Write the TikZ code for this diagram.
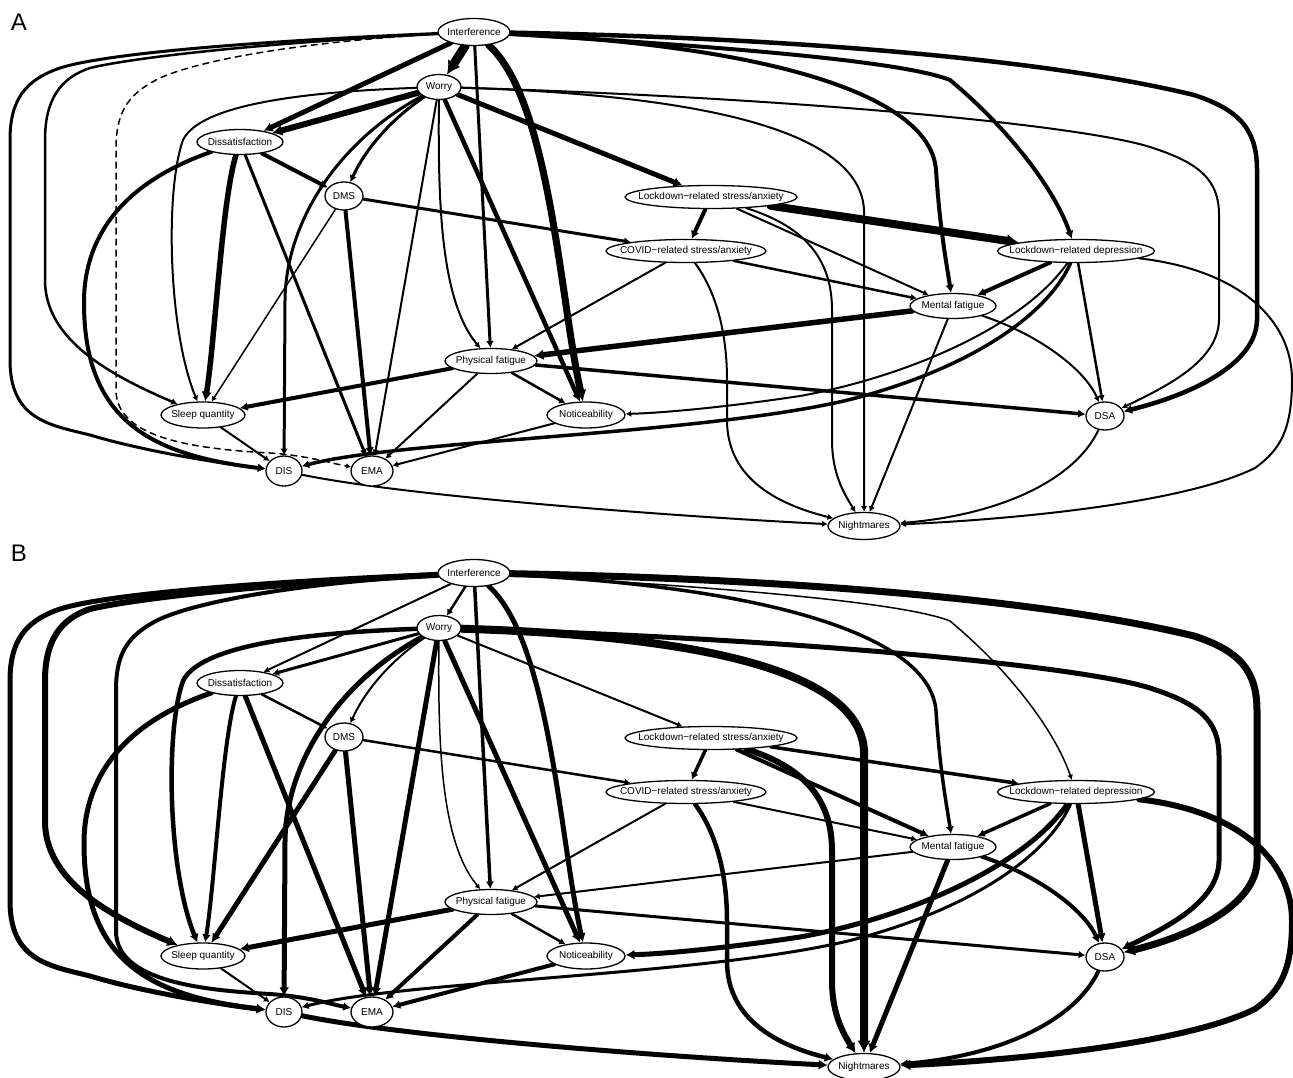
\documentclass[tikz,border=0pt]{standalone}
\usepackage{fontspec}
\setmainfont{Liberation Sans}
\usetikzlibrary{shapes.geometric,arrows.meta}
\pgfdeclarelayer{bg}
\pgfsetlayers{bg,main}
\tikzset{
  ell/.style={ellipse, draw, line width=1.3pt, fill=white, inner sep=0pt, font=\fontsize{10}{12}\selectfont},
  edge/.style={line cap=round, -{Latex[length=3.5pt 1.1, width=4pt 1.2]}},
  lbl/.style={font=\fontsize{24}{28}\selectfont, inner sep=0pt},
}
\newcommand\nd[6]{\node[ell, minimum width=#4pt, minimum height=#5pt] (#1) at (#2,#3) {\makebox[0pt]{#6}};}
\newcommand\ew[3]{\tikzset{#1#2/.style={line width=#3pt}}}
% panel A widths
\ew{A}{intwor}{9}\ew{A}{intdsat}{5}\ew{A}{intdis}{3}\ew{A}{intsq}{2.5}
\tikzset{Aintema/.style={line width=1.5pt, dash pattern=on 6pt off 5pt}}
\ew{A}{intpf}{3}\ew{A}{intnot}{7}\ew{A}{intmf}{4}\ew{A}{intldep}{4}\ew{A}{intdsa}{4.5}
\ew{A}{wordsat}{6}\ew{A}{wordms}{3}\ew{A}{worlsa}{5}\ew{A}{worsq}{2}\ew{A}{wordis}{3}
\ew{A}{worema}{2}\ew{A}{worpf}{2}\ew{A}{wornot}{4.5}\ew{A}{wornig}{2}\ew{A}{wordsa}{2}
\ew{A}{dsatdms}{4}\ew{A}{dsatsq}{5.5}\ew{A}{dsatema}{3}\ew{A}{dsatdis}{4}
\ew{A}{dmscsa}{3}\ew{A}{dmssq}{1.5}\ew{A}{dmsema}{4}
\ew{A}{lsacsa}{4}\ew{A}{lsaldep}{8}\ew{A}{lsamf}{2}\ew{A}{lsanig}{2}
\ew{A}{csamf}{2.5}\ew{A}{csapf}{2}\ew{A}{csanig}{2}
\ew{A}{ldepmf}{4}\ew{A}{ldepdsa}{2.5}\ew{A}{ldepnot}{2}\ew{A}{ldepdis}{3.5}\ew{A}{ldepnig}{2}
\ew{A}{mfpf}{5.5}\ew{A}{mfdsa}{2}\ew{A}{mfnig}{2}
\ew{A}{pfsq}{4}\ew{A}{pfnot}{2.5}\ew{A}{pfema}{2}\ew{A}{pfdsa}{3.5}
\ew{A}{sqdis}{2}\ew{A}{notema}{2}\ew{A}{disnig}{2}\ew{A}{dsanig}{2}
% panel B widths
\ew{B}{intwor}{2.5}\ew{B}{intdsat}{2}\ew{B}{intdis}{5}\ew{B}{intsq}{6}\ew{B}{intema}{4}
\ew{B}{intpf}{3.5}\ew{B}{intnot}{5}\ew{B}{intmf}{3.5}\ew{B}{intldep}{1.5}\ew{B}{intdsa}{7}
\ew{B}{wordsat}{3}\ew{B}{wordms}{2}\ew{B}{worlsa}{2}\ew{B}{worsq}{4.5}\ew{B}{wordis}{5}
\ew{B}{worema}{5}\ew{B}{worpf}{1.5}\ew{B}{wornot}{5}\ew{B}{wornig}{8}\ew{B}{wordsa}{5}
\ew{B}{dsatdms}{2.5}\ew{B}{dsatsq}{4}\ew{B}{dsatema}{5}\ew{B}{dsatdis}{5}
\ew{B}{dmscsa}{2.5}\ew{B}{dmssq}{5}\ew{B}{dmsema}{5}
\ew{B}{lsacsa}{3.5}\ew{B}{lsaldep}{3.5}\ew{B}{lsamf}{4}\ew{B}{lsanig}{6}
\ew{B}{csamf}{2}\ew{B}{csapf}{2}\ew{B}{csanig}{4.5}
\ew{B}{ldepmf}{3.5}\ew{B}{ldepdsa}{5}\ew{B}{ldepnot}{5}\ew{B}{ldepdis}{3}\ew{B}{ldepnig}{6}
\ew{B}{mfpf}{2}\ew{B}{mfdsa}{4}\ew{B}{mfnig}{5}
\ew{B}{pfsq}{5}\ew{B}{pfnot}{2.5}\ew{B}{pfema}{4}\ew{B}{pfdsa}{3}
\ew{B}{sqdis}{2}\ew{B}{notema}{4}\ew{B}{disnig}{5}\ew{B}{dsanig}{4}

\newcommand\bnpanel[2]{%
\begin{scope}[shift={(0,#2)}]
\nd{int#1}{474}{32}{72}{27}{Interference}
\nd{wor#1}{439}{87}{44}{25}{Worry}
\nd{dsat#1}{240}{142}{86}{25}{Dissatisfaction}
\nd{dms#1}{344}{196}{38}{28}{DMS}
\nd{lsa#1}{711}{197}{172}{23}{Lockdown−related stress/anxiety}
\nd{csa#1}{686}{251}{160}{23}{COVID−related stress/anxiety}
\nd{ldep#1}{1076}{251}{157}{23}{Lockdown−related depression}
\nd{mf#1}{953}{306}{86}{25}{Mental fatigue}
\nd{pf#1}{491}{361}{92}{25}{Physical fatigue}
\nd{sq#1}{203}{415}{84}{26}{Sleep quantity}
\nd{not#1}{586}{415}{78}{26}{Noticeability}
\nd{dsa#1}{1105}{416}{38}{28}{DSA}
\nd{dis#1}{284}{471}{36}{30}{DIS}
\nd{ema#1}{372}{471}{42}{30}{EMA}
\nd{nig#1}{864}{526}{72}{27}{Nightmares}
\begin{pgfonlayer}{bg}
% Interference
\draw[edge,#1intwor] (int#1) -- (wor#1);
\draw[edge,#1intdsat] (int#1) -- (dsat#1);
\draw[edge,#1intdis] (int#1) .. controls (280,40) and (110,52) .. (60,68) .. controls (25,80) and (10,100) .. (10,140) -- (10,360) .. controls (10,420) and (50,425) .. (90,435) .. controls (140,450) and (210,462) .. (dis#1);
\draw[edge,#1intsq] (int#1) .. controls (280,42) and (140,56) .. (90,68) .. controls (60,78) and (45,100) .. (45,140) -- (45,280) .. controls (45,340) and (110,375) .. (sq#1);
\draw[edge,#1intema] (int#1) .. controls (300,42) and (200,60) .. (160,78) .. controls (125,95) and (116,115) .. (116,150) -- (116,390) .. controls (116,440) and (200,449) .. (270,453) .. controls (310,456) and (330,463) .. (ema#1);
\draw[edge,#1intpf] (int#1) -- (pf#1);
\draw[edge,#1intnot] (int#1) .. controls (550,100) and (560,300) .. (not#1);
\draw[edge,#1intmf] (int#1) .. controls (750,45) and (930,90) .. (936,170) .. controls (940,230) and (946,260) .. (mf#1);
\draw[edge,#1intldep] (int#1) .. controls (700,45) and (900,60) .. (950,80) .. controls (1010,130) and (1055,190) .. (ldep#1);
\draw[edge,#1intdsa] (int#1) .. controls (800,38) and (1050,60) .. (1194,95) .. controls (1240,110) and (1257,130) .. (1257,170) -- (1257,320) .. controls (1256,365) and (1190,395) .. (dsa#1);
% Worry
\draw[edge,#1wordsat] (wor#1) -- (dsat#1);
\draw[edge,#1wordms] (wor#1) .. controls (390,120) and (365,150) .. (dms#1);
\draw[edge,#1worlsa] (wor#1) -- (lsa#1);
\draw[edge,#1worsq] (wor#1) .. controls (300,92) and (200,105) .. (183,140) .. controls (165,190) and (168,330) .. (sq#1);
\draw[edge,#1wordis] (wor#1) .. controls (340,140) and (286,220) .. (285,300) -- (dis#1);
\draw[edge,#1worema] (wor#1) -- (ema#1);
\draw[edge,#1worpf] (wor#1) .. controls (438,200) and (440,300) .. (pf#1);
\draw[edge,#1wornot] (wor#1) -- (not#1);
\draw[edge,#1wornig] (wor#1) .. controls (700,95) and (860,130) .. (864,210) -- (nig#1);
\draw[edge,#1wordsa] (wor#1) .. controls (800,98) and (1080,125) .. (1150,147) .. controls (1200,163) and (1219,180) .. (1219,215) -- (1219,320) .. controls (1218,360) and (1170,385) .. (dsa#1);
% Dissatisfaction
\draw[edge,#1dsatdms] (dsat#1) -- (dms#1);
\draw[edge,#1dsatsq] (dsat#1) .. controls (222,200) and (215,340) .. (sq#1);
\draw[edge,#1dsatema] (dsat#1) -- (ema#1);
\draw[edge,#1dsatdis] (dsat#1) .. controls (130,180) and (85,230) .. (84,300) .. controls (83,420) and (150,455) .. (dis#1);
% DMS
\draw[edge,#1dmscsa] (dms#1) -- (csa#1);
\draw[edge,#1dmssq] (dms#1) -- (sq#1);
\draw[edge,#1dmsema] (dms#1) -- (ema#1);
% Lockdown stress
\draw[edge,#1lsacsa] (lsa#1) -- (csa#1);
\draw[edge,#1lsaldep] (lsa#1) -- (ldep#1);
\draw[edge,#1lsamf] (lsa#1) -- (mf#1);
\draw[edge,#1lsanig] (lsa#1) .. controls (800,225) and (832,255) .. (832,310) -- (832,440) .. controls (832,475) and (845,495) .. (nig#1);
% COVID stress
\draw[edge,#1csamf] (csa#1) -- (mf#1);
\draw[edge,#1csapf] (csa#1) -- (pf#1);
\draw[edge,#1csanig] (csa#1) .. controls (715,290) and (727,330) .. (727,380) -- (727,420) .. controls (727,480) and (780,505) .. (nig#1);
% Lockdown depression
\draw[edge,#1ldepmf] (ldep#1) -- (mf#1);
\draw[edge,#1ldepdsa] (ldep#1) -- (dsa#1);
\draw[edge,#1ldepnot] (ldep#1) .. controls (1020,330) and (900,378) .. (800,396) .. controls (720,408) and (660,413) .. (not#1);
\draw[edge,#1ldepdis] (ldep#1) .. controls (1045,320) and (960,372) .. (848,400) .. controls (700,435) and (400,440) .. (dis#1);
\draw[edge,#1ldepnig] (ldep#1) .. controls (1240,270) and (1292,320) .. (1292,380) .. controls (1292,430) and (1280,450) .. (1255,468) .. controls (1180,505) and (1000,520) .. (nig#1);
% Mental fatigue
\draw[edge,#1mfpf] (mf#1) -- (pf#1);
\draw[edge,#1mfdsa] (mf#1) .. controls (1040,335) and (1085,370) .. (dsa#1);
\draw[edge,#1mfnig] (mf#1) -- (nig#1);
% Physical fatigue
\draw[edge,#1pfsq] (pf#1) -- (sq#1);
\draw[edge,#1pfnot] (pf#1) -- (not#1);
\draw[edge,#1pfema] (pf#1) -- (ema#1);
\draw[edge,#1pfdsa] (pf#1) -- (dsa#1);
% others
\draw[edge,#1sqdis] (sq#1) -- (dis#1);
\draw[edge,#1notema] (not#1) -- (ema#1);
\draw[edge,#1disnig] (dis#1) .. controls (400,495) and (650,515) .. (nig#1);
\draw[edge,#1dsanig] (dsa#1) .. controls (1075,480) and (1000,515) .. (nig#1);
\end{pgfonlayer}
\end{scope}}

\begin{document}
\begin{tikzpicture}[x=1pt,y=-1pt]
\useasboundingbox (0,0) rectangle (1293,1078);
\node[lbl] (labA) at (19,22) {A};
\node[lbl] (labB) at (19,553) {B};
\bnpanel{A}{0}
\bnpanel{B}{541}
\end{tikzpicture}
\end{document}
